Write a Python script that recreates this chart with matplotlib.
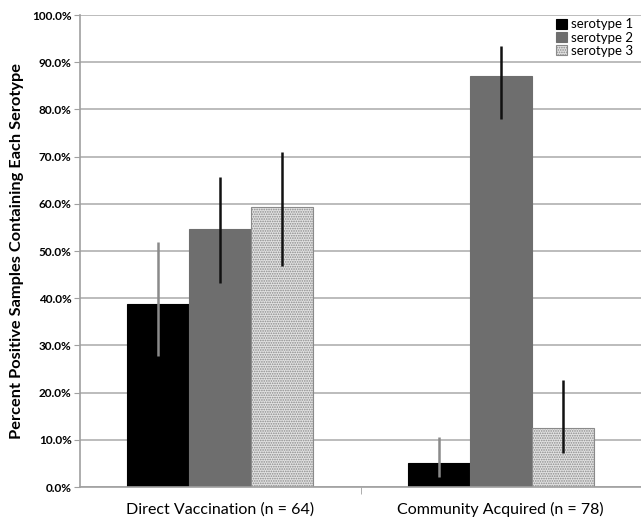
import numpy as np
import matplotlib
matplotlib.use("Agg")
import matplotlib.pyplot as plt
from matplotlib.ticker import FuncFormatter

# data
categories = ["Direct Vaccination (n = 64)", "Community Acquired (n = 78)"]
series = ["serotype 1", "serotype 2", "serotype 3"]
values = [
    [38.8, 5.0],
    [54.6, 87.1],
    [59.3, 12.6],
]
err_low = [
    [27.8, 2.1],
    [43.3, 77.9],
    [46.9, 7.1],
]
err_high = [
    [52.0, 10.5],
    [65.7, 93.4],
    [70.9, 22.7],
]

plt.rcParams['font.family'] = ['Lato', 'DejaVu Sans']
plt.rcParams['hatch.linewidth'] = 0.8

fig = plt.figure(figsize=(6.41, 5.23), dpi=100)
ax = fig.add_axes([80 / 641, 36 / 523, 561 / 641, 472 / 523])

x = np.arange(len(categories))
width = 0.221
faces = ["#000000", "#6e6e6e", "#e2e2e2"]
edges = ["#000000", "#6e6e6e", "#8a8a8a"]
hatches = [None, None, "......."]
ecolors = ["#8a8a8a", "#111111", "#111111"]

for i, name in enumerate(series):
    pos = x + (i - 1) * width
    v = np.array(values[i])
    lo = v - np.array(err_low[i])
    hi = np.array(err_high[i]) - v
    ax.bar(pos, v, width, color=faces[i], edgecolor=edges[i], hatch=hatches[i],
           linewidth=0.8, label=name, zorder=2)
    ax.errorbar(pos, v, yerr=[lo, hi], fmt="none", ecolor=ecolors[i],
                elinewidth=1.8, capsize=0, zorder=3)

ax.set_xlim(-0.5, 1.5)
ax.set_ylim(0, 100)
ax.set_yticks(np.arange(0, 101, 10))
ax.yaxis.set_major_formatter(FuncFormatter(lambda v, p: f"{v:.1f}%"))
ax.tick_params(axis="y", labelsize=8.5, length=4, color="#a0a0a0", pad=2)
for lab in ax.get_yticklabels():
    lab.set_fontweight("bold")

ax.set_xticks(x)
ax.set_xticklabels(categories, fontsize=11.5)
ax.set_xticks([0.5], minor=True)
ax.tick_params(axis="x", which="major", length=0, pad=11)
ax.tick_params(axis="x", which="minor", length=5, color="#a0a0a0")

ax.grid(axis="y", color="#b0b0b0", linewidth=1.2, zorder=0)
ax.set_axisbelow(True)
for s in ["top", "right"]:
    ax.spines[s].set_visible(False)
ax.spines["left"].set_color("#a0a0a0")
ax.spines["bottom"].set_color("#a0a0a0")
ax.spines["left"].set_linewidth(1.2)
ax.spines["bottom"].set_linewidth(1.2)

ax.set_ylabel("Percent Positive Samples Containing Each Serotype",
              fontsize=11.8, fontweight="bold", labelpad=6)

ax.legend(loc="upper right", bbox_to_anchor=(1.0, 1.01), frameon=False,
          fontsize=9.5, handlelength=0.8, handleheight=0.8, handletextpad=0.3,
          labelspacing=0.1, borderaxespad=0.2)

fig.savefig("out.png", dpi=100)
